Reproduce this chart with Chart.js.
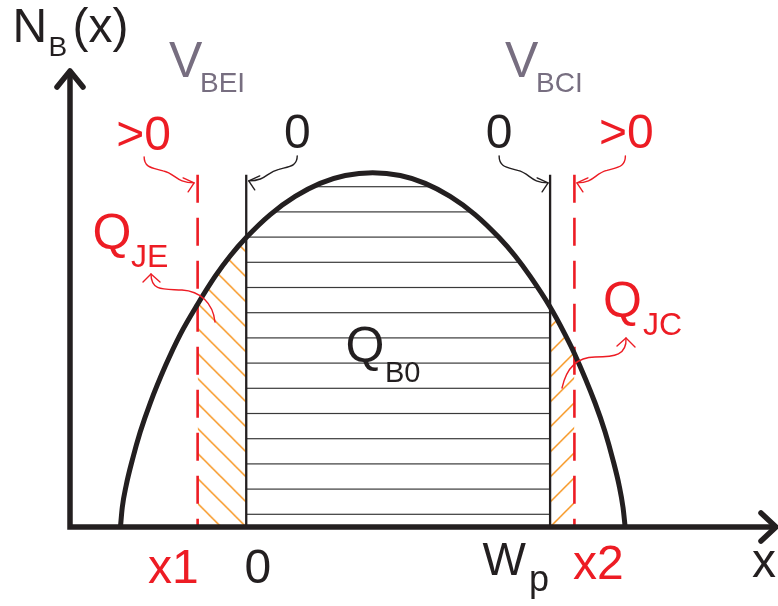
<!DOCTYPE html>
<html>
<head>
<meta charset="utf-8">
<script src="https://cdn.jsdelivr.net/npm/chart.js@4.4.1/dist/chart.umd.min.js"></script>
<style>
  html, body { margin: 0; padding: 0; background: #fff; }
  canvas { display: block; }
</style>
</head>
<body>
<canvas id="profile" width="778" height="606"></canvas>
<script>
// base doping profile N_B(x); position scaled so W_p = 100, peak doping = 100
const posX = [-41.4, -40.8, -39.5, -37.5, -34.9, -31.6, -26.6, -21.7, -16, -10.2, -5.3, 0,
              7.9, 16.1, 24.3, 32.6, 41.6, 50.7, 58.9, 67.1, 75.3, 83.2, 88.5, 93.4,
              100, 104.9, 108, 114.8, 118.1, 120.7, 122.7, 124.0, 124.7];
const nB   = [0, 5.5, 11.8, 18.9, 26.8, 35.0, 45.5, 54.4, 62.9, 70.8, 76.5, 81.7,
              88.2, 93.3, 97.0, 99.2, 100, 99.2, 97.0, 93.3, 88.2, 81.7, 76.5, 70.8,
              62.1, 54.4, 49.0, 35.0, 26.8, 18.9, 11.8, 5.5, 0];

// neutral base edges: at zero bias (0, W_p) and under bias (x1, x2)
const zeroBiasEdges = [0, 100];
const biasedEdges = [-16, 108];
const edgeTop = 99.4;

const xRange = [-58, 175];
const yRange = [0, 129];

const BLACK = "#231f20", RED = "#ed1c24", ORANGE = "#f7941d", GRAY = "#776e80";
const FONT = '"Liberation Sans", Arial, Helvetica, sans-serif';

const profile = posX.map((x, i) => ({ x, y: nB[i] }));
const between = (a, b) => profile.filter(p => p.x >= a && p.x <= b);

function makePattern(w, h, draw) {
  const c = document.createElement("canvas");
  c.width = w; c.height = h;
  const g = c.getContext("2d");
  draw(g);
  return g.createPattern(c, "repeat");
}

// horizontal rules for Q_B0, period 25.2px (5 rules per tile)
const rules = makePattern(8, 126, g => {
  g.fillStyle = "#3a3a3a";
  [12.5, 37.7, 62.9, 88.1, 113.3].forEach(y => g.fillRect(0, y - 0.6, 8, 1.2));
});
// "\" hatching for Q_JE
const hatchJE = makePattern(25, 25, g => {
  g.strokeStyle = ORANGE; g.lineWidth = 1.5;
  [-25, 0, 25].forEach(o => { g.beginPath(); g.moveTo(o - 2, -2); g.lineTo(o + 27, 27); g.stroke(); });
});
// "/" hatching for Q_JC
const hatchJC = makePattern(25, 25, g => {
  g.strokeStyle = ORANGE; g.lineWidth = 1.5;
  [0, 25, 50].forEach(o => { g.beginPath(); g.moveTo(o + 2, -2); g.lineTo(o - 27, 27); g.stroke(); });
});

const patternAnchor = {
  id: "patternAnchor",
  beforeDatasetsDraw(chart) {
    const { x, y } = chart.scales;
    const y0 = y.getPixelForValue(0);
    rules.setTransform(new DOMMatrix([1, 0, 0, 1, 0, y0]));
    hatchJE.setTransform(new DOMMatrix([1, 0, 0, 1, x.getPixelForValue(zeroBiasEdges[0]), y0]));
    hatchJC.setTransform(new DOMMatrix([1, 0, 0, 1, x.getPixelForValue(zeroBiasEdges[1]), y0]));
  }
};

function txt(ctx, s, x, y, size, color, align) {
  ctx.font = size + "px " + FONT;
  ctx.fillStyle = color;
  ctx.textAlign = align || "left";
  ctx.textBaseline = "alphabetic";
  ctx.fillText(s, x, y);
}

function head(ctx, tip, a, b) {
  ctx.beginPath();
  ctx.moveTo(tip[0] + a[0], tip[1] + a[1]);
  ctx.lineTo(tip[0], tip[1]);
  ctx.lineTo(tip[0] + b[0], tip[1] + b[1]);
  ctx.stroke();
}

// wavy pointer from a label down to an edge line
function squiggle(ctx, s, t, color) {
  const dx = t[0] - s[0], dy = t[1] - s[1];
  const sg = Math.sign(dx);
  ctx.strokeStyle = color; ctx.lineWidth = 1.4; ctx.lineCap = "round"; ctx.lineJoin = "round";
  ctx.beginPath();
  ctx.moveTo(s[0], s[1]);
  ctx.bezierCurveTo(s[0], s[1] + 0.42 * dy, s[0] + 0.16 * dx, s[1] + 0.42 * dy, s[0] + 0.38 * dx, s[1] + 0.54 * dy);
  ctx.bezierCurveTo(s[0] + 0.64 * dx, s[1] + 0.65 * dy, s[0] + 0.64 * dx, t[1], t[0], t[1]);
  ctx.stroke();
  head(ctx, t, [-sg * 11, -5], [-sg * 6, 9]);
}

const decorations = {
  id: "decorations",
  afterDatasetsDraw(chart) {
    const ctx = chart.ctx;
    const { x, y } = chart.scales;
    const X = v => x.getPixelForValue(v), Y = v => y.getPixelForValue(v);
    const left = X(xRange[0]), right = X(xRange[1]), base = Y(0), top = Y(yRange[1]);
    ctx.save();

    // axes with open arrowheads
    ctx.strokeStyle = BLACK; ctx.lineWidth = 5.5; ctx.lineCap = "butt";
    ctx.beginPath();
    ctx.moveTo(left, base + 2.7); ctx.lineTo(left, top + 1);
    ctx.moveTo(left - 2.7, base); ctx.lineTo(right - 2, base);
    ctx.stroke();
    ctx.lineCap = "round"; ctx.lineJoin = "round";
    head(ctx, [left, top + 1], [-13, 16], [13, 16]);
    head(ctx, [right - 2, base], [-15, -14], [-15, 14]);

    // edge callouts
    const lt = Y(edgeTop);
    const a = X(biasedEdges[0]), b = X(zeroBiasEdges[0]), c = X(zeroBiasEdges[1]), d = X(biasedEdges[1]);
    txt(ctx, ">0", a - 54, lt - 25, 48, RED, "center");
    squiggle(ctx, [a - 53.5, lt - 18], [a - 3.5, lt + 8], RED);
    txt(ctx, "0", b + 51, lt - 27, 48, BLACK, "center");
    squiggle(ctx, [b + 51, lt - 19], [b + 2.5, lt + 6], BLACK);
    txt(ctx, "0", c - 51, lt - 27, 48, BLACK, "center");
    squiggle(ctx, [c - 51, lt - 19], [c - 2, lt + 8], BLACK);
    txt(ctx, ">0", d + 52, lt - 27, 48, RED, "center");
    squiggle(ctx, [d + 51, lt - 19], [d + 2.5, lt + 8], RED);

    // axis title
    txt(ctx, "N", 12.5, 42, 48, BLACK);
    txt(ctx, "B", 48.5, 55.5, 28, BLACK);
    txt(ctx, "(x)", 72.5, 42, 48, BLACK);

    // junction voltages
    txt(ctx, "V", 169, 77, 50, GRAY);
    txt(ctx, "BEI", 200, 92, 28, GRAY);
    txt(ctx, "V", 505, 77, 50, GRAY);
    txt(ctx, "BCI", 536, 92, 28, GRAY);

    // charges
    txt(ctx, "Q", 92.5, 249, 50, RED);
    txt(ctx, "JE", 131, 267, 32, RED);
    txt(ctx, "Q", 603, 317, 50, RED);
    txt(ctx, "JC", 643, 335, 32, RED);
    txt(ctx, "Q", 345.5, 362, 50, BLACK);
    txt(ctx, "B0", 385, 382, 29, BLACK);

    // Q_JE and Q_JC pointers
    ctx.strokeStyle = RED; ctx.lineWidth = 1.4;
    ctx.beginPath();
    ctx.moveTo(151, 274);
    ctx.bezierCurveTo(151, 292, 165, 289, 182, 290);
    ctx.bezierCurveTo(200, 291, 213, 303, 215, 322);
    ctx.stroke();
    head(ctx, [151, 274], [-8, 8], [9, 8]);
    ctx.beginPath();
    ctx.moveTo(626, 338);
    ctx.bezierCurveTo(627, 355, 615, 357, 595, 357);
    ctx.bezierCurveTo(576, 357, 566, 370, 562, 388);
    ctx.stroke();
    head(ctx, [626, 338], [-9, 8], [9, 9]);

    // positions along x
    txt(ctx, "x1", 148, 583, 48, RED);
    txt(ctx, "0", X(zeroBiasEdges[0]) + 11.5, 583, 48, BLACK, "center");
    txt(ctx, "W", 482.5, 575, 46, BLACK);
    txt(ctx, "p", 529, 591, 36, BLACK);
    txt(ctx, "x2", 573, 579, 48, RED);
    txt(ctx, "x", 752, 577, 48, BLACK);

    ctx.restore();
  }
};

const edgeLine = (xv, color, width, dash) => ({
  data: [{ x: xv, y: edgeTop }, { x: xv, y: 0 }],
  borderColor: color, borderWidth: width, borderDash: dash || [],
  pointRadius: 0, fill: false, tension: 0, order: 1
});

const region = (a, b, pattern) => ({
  data: between(a, b),
  borderColor: "rgba(0,0,0,0)", borderWidth: 0, backgroundColor: pattern,
  pointRadius: 0, fill: "origin", cubicInterpolationMode: "monotone", order: 2
});

new Chart(document.getElementById("profile").getContext("2d"), {
  type: "line",
  data: {
    datasets: [
      { data: profile, borderColor: BLACK, borderWidth: 5, pointRadius: 0, fill: false,
        cubicInterpolationMode: "monotone", order: 0 },
      edgeLine(zeroBiasEdges[0], BLACK, 2.3),
      edgeLine(zeroBiasEdges[1], BLACK, 2.3),
      edgeLine(biasedEdges[0], RED, 2.6, [28, 15]),
      edgeLine(biasedEdges[1], RED, 2.6, [28, 15]),
      region(zeroBiasEdges[0], zeroBiasEdges[1], rules),
      region(biasedEdges[0], zeroBiasEdges[0], hatchJE),
      region(zeroBiasEdges[1], biasedEdges[1], hatchJC)
    ]
  },
  options: {
    responsive: false,
    animation: false,
    layout: { padding: { left: 70, right: 0, top: 70, bottom: 79 } },
    plugins: { legend: { display: false }, tooltip: { enabled: false } },
    scales: {
      x: { type: "linear", min: xRange[0], max: xRange[1], display: false },
      y: { min: yRange[0], max: yRange[1], display: false }
    }
  },
  plugins: [patternAnchor, decorations]
});
</script>
</body>
</html>
